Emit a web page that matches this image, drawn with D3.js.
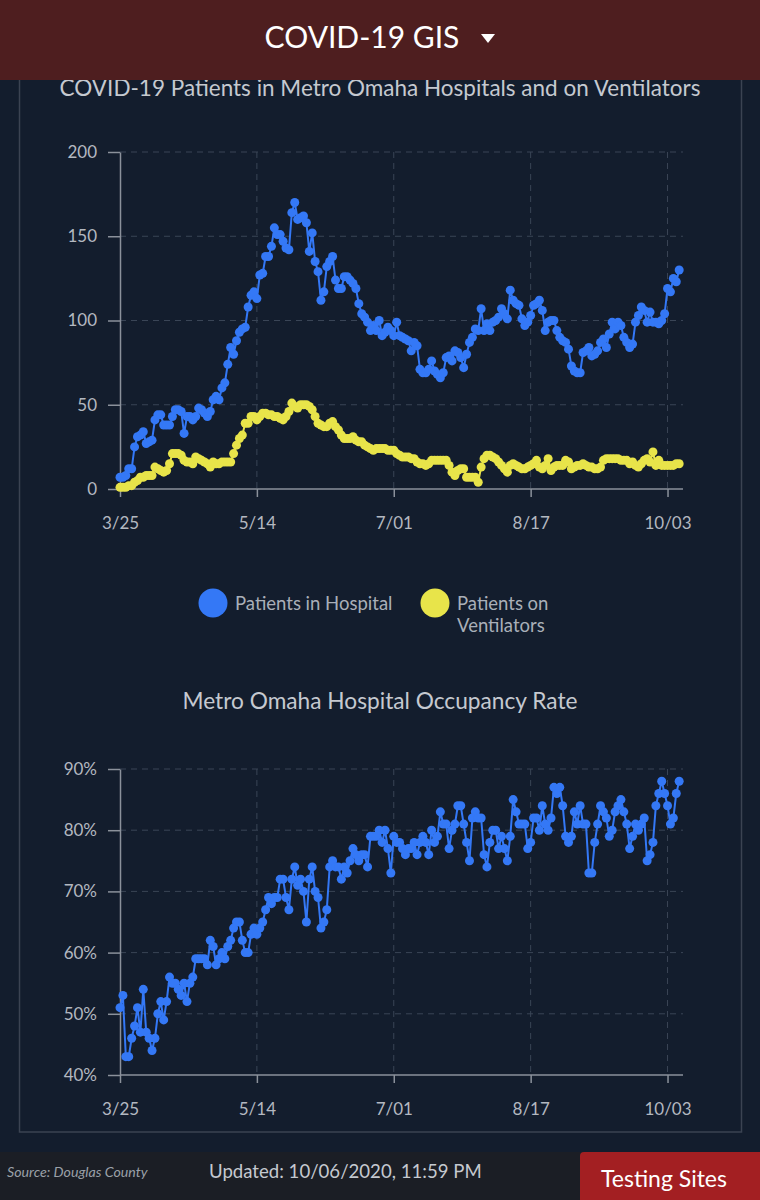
<!DOCTYPE html>
<html>
<head>
<meta charset="utf-8">
<script src="https://cdn.jsdelivr.net/npm/d3@7"></script>
<style>
    body { margin: 0; background: #131d2d; }
    svg { display: block; }
</style>
</head>
<body>
<script>
// x axis labels and the point index they sit on
const dateLabels = ['3/25', '5/14', '7/01', '8/17', '10/03'];
const dateIndex = [0, 47, 94, 141, 188];

const hospitalPatients = [
    7, 7, 8, 12, 12, 25, 31, 32, 34, 27,
    28, 29, 41, 44, 44, 38, 38, 38, 43, 47,
    47, 46, 33, 43, 43, 41, 43, 48, 47, 45,
    43, 46, 53, 55, 53, 60, 63, 74, 84, 80,
    88, 93, 95, 96, 108, 115, 117, 113, 127, 128,
    138, 138, 144, 155, 151, 151, 147, 143, 142, 164,
    170, 160, 161, 162, 158, 141, 152, 135, 129, 112,
    117, 132, 135, 138, 124, 119, 119, 126, 126, 124,
    122, 119, 110, 104, 102, 99, 94, 97, 94, 100,
    91, 93, 96, 94, 91, 99, 91, 90, 89, 88,
    82, 87, 85, 71, 69, 69, 71, 76, 70, 68,
    66, 69, 78, 79, 76, 82, 81, 78, 72, 80,
    87, 90, 95, 94, 107, 94, 98, 94, 99, 100,
    102, 107, 104, 101, 118, 112, 110, 109, 101, 97,
    99, 103, 109, 110, 112, 106, 94, 99, 100, 100,
    94, 90, 88, 87, 83, 73, 70, 69, 69, 81,
    82, 84, 79, 80, 82, 87, 89, 84, 92, 99,
    95, 99, 97, 90, 87, 84, 86, 99, 103, 108,
    106, 99, 105, 99, 99, 98, 100, 104, 119, 117,
    125, 123, 130
];

const ventilatorPatients = [
    1, 1, 1, 2, 2, 4, 5, 7, 7, 8,
    8, 8, 13, 12, 11, 10, 11, 15, 21, 21,
    21, 20, 17, 16, 16, 15, 19, 18, 17, 16,
    15, 13, 16, 15, 15, 16, 16, 16, 16, 21,
    26, 30, 32, 39, 39, 43, 43, 41, 43, 45,
    45, 44, 44, 43, 43, 42, 41, 43, 46, 51,
    49, 48, 50, 50, 50, 49, 47, 43, 39, 38,
    37, 37, 39, 40, 37, 35, 32, 30, 30, 30,
    31, 29, 28, 28, 26, 25, 24, 23, 24, 24,
    24, 24, 23, 23, 23, 21, 20, 19, 19, 19,
    18, 18, 16, 15, 15, 14, 15, 17, 17, 17,
    17, 17, 17, 14, 10, 8, 11, 12, 12, 7,
    7, 7, 7, 4, 13, 18, 20, 20, 19, 18,
    16, 14, 12, 10, 14, 15, 14, 13, 12, 12,
    13, 14, 15, 17, 13, 12, 14, 18, 11, 13,
    14, 14, 14, 17, 16, 12, 13, 14, 14, 15,
    14, 13, 13, 12, 12, 13, 17, 18, 18, 18,
    18, 18, 17, 17, 17, 15, 16, 14, 13, 15,
    17, 18, 16, 22, 14, 17, 14, 14, 14, 14,
    14, 15, 15
];

const occupancyRate = [
    51, 53, 43, 43, 46, 48, 51, 47, 54, 47,
    46, 44, 46, 50, 52, 49, 52, 56, 55, 55,
    54, 53, 55, 52, 55, 56, 59, 59, 59, 59,
    58, 62, 61, 58, 59, 60, 59, 61, 62, 64,
    65, 65, 62, 60, 60, 63, 64, 63, 64, 65,
    67, 69, 68, 69, 69, 72, 72, 69, 67, 72,
    74, 71, 72, 70, 65, 72, 74, 70, 69, 64,
    65, 67, 74, 75, 74, 74, 72, 74, 73, 75,
    77, 76, 75, 76, 76, 74, 79, 79, 79, 80,
    78, 80, 77, 73, 79, 78, 78, 77, 76, 77,
    77, 78, 76, 78, 79, 78, 76, 80, 78, 79,
    83, 81, 81, 77, 80, 81, 84, 84, 81, 78,
    75, 82, 83, 82, 82, 76, 74, 78, 80, 80,
    77, 79, 77, 75, 79, 85, 83, 81, 81, 81,
    77, 78, 82, 82, 80, 84, 81, 80, 82, 87,
    86, 87, 84, 79, 78, 79, 83, 81, 84, 81,
    81, 73, 73, 78, 81, 84, 83, 82, 79, 80,
    83, 84, 85, 83, 81, 77, 79, 81, 80, 81,
    82, 75, 76, 78, 84, 86, 88, 86, 84, 81,
    82, 86, 88
];

const patientTicks = [0, 50, 100, 150, 200];
const occupancyTicks = [40, 50, 60, 70, 80, 90];
const legendLabels = [['Patients in Hospital'], ['Patients on', 'Ventilators']];

const blue = '#3478f6';
const yellow = '#e8e44a';
const font = 'Lato, "Open Sans", sans-serif';
const textColor = '#b3b8c0';

const svg = d3.select('body')
    .append('svg')
    .attr('width', 760)
    .attr('height', 1200);

svg.append('rect')
    .attr('width', 760)
    .attr('height', 1200)
    .attr('fill', '#131d2d');

// card outline
svg.append('rect')
    .attr('x', 19.5)
    .attr('y', 60)
    .attr('width', 722)
    .attr('height', 1072)
    .attr('fill', 'none')
    .attr('stroke', '#3b4352')
    .attr('stroke-width', 1.5);

const x = d3.scaleLinear()
    .domain([0, 194])
    .range([120, 685]);

function drawChart(yScale, ticks, fmt, series) {
    const top = yScale.range()[1];
    const bottom = yScale.range()[0];

    // dashed grid
    svg.append('g')
        .selectAll('line')
        .data(ticks.slice(1))
        .enter()
        .append('line')
        .attr('x1', 120)
        .attr('x2', 683)
        .attr('y1', d => yScale(d))
        .attr('y2', d => yScale(d))
        .attr('stroke', '#3a4556')
        .attr('stroke-dasharray', '6,5');

    svg.append('g')
        .selectAll('line')
        .data(dateIndex.slice(1))
        .enter()
        .append('line')
        .attr('x1', d => x(d))
        .attr('x2', d => x(d))
        .attr('y1', top)
        .attr('y2', bottom)
        .attr('stroke', '#3a4556')
        .attr('stroke-dasharray', '6,5');

    const yAxis = svg.append('g')
        .attr('transform', 'translate(120,0)')
        .call(d3.axisLeft(yScale).tickValues(ticks).tickFormat(fmt)
            .tickSize(12).tickSizeOuter(0).tickPadding(11));

    const xAxis = svg.append('g')
        .attr('transform', `translate(0,${bottom})`)
        .call(d3.axisBottom(x).tickValues(dateIndex).tickFormat((d, i) => dateLabels[i])
            .tickSize(8).tickSizeOuter(0).tickPadding(20));

    [yAxis, xAxis].forEach(a => {
        a.select('.domain').attr('stroke', '#8b919b').attr('stroke-width', 1.5);
        a.selectAll('.tick line').attr('stroke', '#8b919b').attr('stroke-width', 1.5);
        a.selectAll('text')
            .style('font-family', font)
            .style('font-size', '17px')
            .attr('fill', textColor);
    });
    xAxis.select('.domain').attr('d', `M120,0H683`);

    series.forEach(s => {
        svg.append('path')
            .datum(s.values)
            .attr('fill', 'none')
            .attr('stroke', s.color)
            .attr('stroke-width', 2)
            .attr('d', d3.line().x((d, i) => x(i)).y(d => yScale(d)));

        svg.append('g')
            .selectAll('circle')
            .data(s.values)
            .enter()
            .append('circle')
            .attr('cx', (d, i) => x(i))
            .attr('cy', d => yScale(d))
            .attr('r', 4.5)
            .attr('fill', s.color);
    });
}

// top chart
const yPatients = d3.scaleLinear().domain([0, 200]).range([489, 152]);
drawChart(yPatients, patientTicks, d => d, [
    { values: ventilatorPatients, color: yellow },
    { values: hospitalPatients, color: blue }
]);

svg.append('text')
    .attr('x', 380)
    .attr('y', 96)
    .attr('text-anchor', 'middle')
    .style('font-family', font)
    .style('font-size', '22.5px')
    .attr('fill', '#c5c9d0')
    .text('COVID-19 Patients in Metro Omaha Hospitals and on Ventilators');

// legend
const legend = svg.append('g')
    .selectAll('g')
    .data(legendLabels)
    .enter()
    .append('g')
    .attr('transform', (d, i) => `translate(${213 + i * 222},603)`);

legend.append('circle')
    .attr('r', 14.5)
    .attr('fill', (d, i) => i === 0 ? blue : yellow);

legend.append('text')
    .attr('x', 22)
    .attr('y', 7)
    .style('font-family', font)
    .style('font-size', '18.5px')
    .attr('fill', '#a9afb8')
    .selectAll('tspan')
    .data(d => d)
    .enter()
    .append('tspan')
    .attr('x', 22)
    .attr('dy', (d, i) => i === 0 ? 0 : 22)
    .text(d => d);

// bottom chart
const yOccupancy = d3.scaleLinear().domain([40, 90]).range([1075, 769]);
drawChart(yOccupancy, occupancyTicks, d => d + '%', [
    { values: occupancyRate, color: blue }
]);

svg.append('text')
    .attr('x', 380)
    .attr('y', 709)
    .attr('text-anchor', 'middle')
    .style('font-family', font)
    .style('font-size', '22.7px')
    .attr('fill', '#c5c9d0')
    .text('Metro Omaha Hospital Occupancy Rate');

// header bar
svg.append('rect')
    .attr('width', 760)
    .attr('height', 80)
    .attr('fill', '#4e1e1f');

svg.append('text')
    .attr('x', 362)
    .attr('y', 48)
    .attr('text-anchor', 'middle')
    .style('font-family', font)
    .style('font-size', '30px')
    .attr('fill', '#ffffff')
    .text('COVID-19 GIS');

svg.append('path')
    .attr('d', 'M481,34L495,34L488,43Z')
    .attr('fill', '#ffffff');

// footer
svg.append('rect')
    .attr('y', 1152)
    .attr('width', 760)
    .attr('height', 48)
    .attr('fill', '#1b1e25');

svg.append('text')
    .attr('x', 7)
    .attr('y', 1177)
    .style('font-family', font)
    .style('font-size', '14.2px')
    .style('font-style', 'italic')
    .attr('fill', '#9aa0a8')
    .text('Source: Douglas County');

svg.append('text')
    .attr('x', 209)
    .attr('y', 1178)
    .style('font-family', font)
    .style('font-size', '18.6px')
    .attr('fill', '#c5c9d0')
    .text('Updated: 10/06/2020, 11:59 PM');

svg.append('rect')
    .attr('x', 580)
    .attr('y', 1152)
    .attr('width', 184)
    .attr('height', 52)
    .attr('rx', 4)
    .attr('fill', '#a31f22');

svg.append('text')
    .attr('x', 664)
    .attr('y', 1187)
    .attr('text-anchor', 'middle')
    .style('font-family', font)
    .style('font-size', '23px')
    .attr('fill', '#ffffff')
    .text('Testing Sites');
</script>
</body>
</html>
